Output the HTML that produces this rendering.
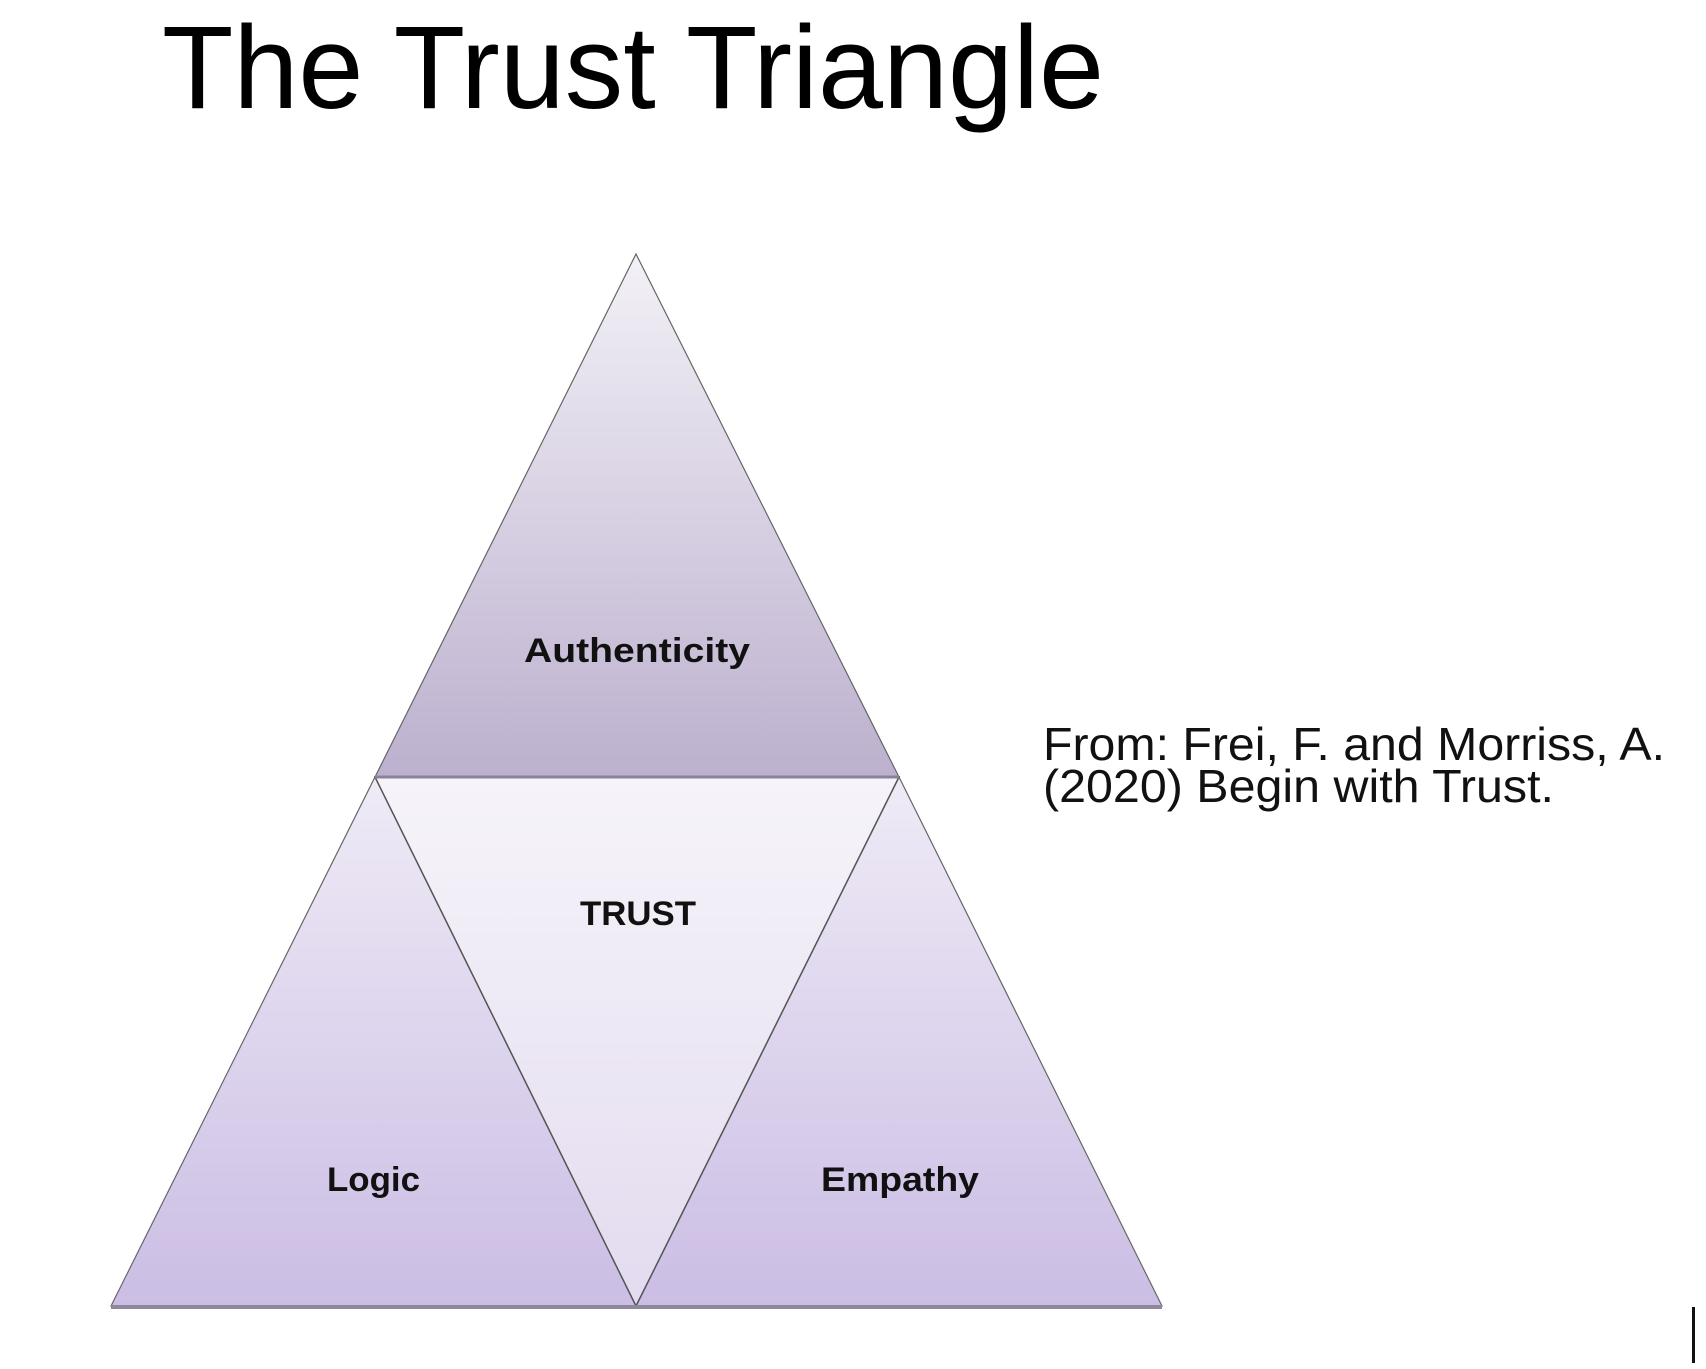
<!DOCTYPE html>
<html><head><meta charset="utf-8"><style>
html,body{margin:0;padding:0;background:#fff;width:1706px;height:1369px;overflow:hidden}
svg{display:block}
</style></head><body>
<svg width="1706" height="1369" viewBox="0 0 1706 1369" xmlns="http://www.w3.org/2000/svg">
<defs>
<linearGradient id="gTop" x1="0" y1="0" x2="0" y2="1">
<stop offset="0" stop-color="#f3f1f7"/><stop offset="1" stop-color="#bcb0ce"/></linearGradient>
<linearGradient id="gSide" x1="0" y1="0" x2="0" y2="1">
<stop offset="0" stop-color="#efebf6"/><stop offset="1" stop-color="#cbbde4"/></linearGradient>
<linearGradient id="gMid" x1="0" y1="0" x2="0" y2="1">
<stop offset="0" stop-color="#f6f4fa"/><stop offset="1" stop-color="#e3dbef"/></linearGradient>
</defs>
<text x="162" y="108" font-family="Liberation Sans, sans-serif" font-size="118" textLength="942" lengthAdjust="spacingAndGlyphs" fill="#000">The Trust Triangle</text>

<polygon points="636,254 899,777 375,777" fill="url(#gTop)" stroke="#666" stroke-width="1.2"/>
<polygon points="375,777 636,1306 111,1306" fill="url(#gSide)" stroke="#666" stroke-width="1.2"/>
<polygon points="899,777 1162,1306 636,1306" fill="url(#gSide)" stroke="#666" stroke-width="1.2"/>
<polygon points="375,777 899,777 636,1306" fill="url(#gMid)" stroke="#555" stroke-width="1.5"/>
<line x1="375" y1="777" x2="899" y2="777" stroke="#8a8296" stroke-width="3"/>
<line x1="111" y1="1307" x2="1162" y2="1307" stroke="#8f889a" stroke-width="4"/>

<g font-family="Liberation Sans, sans-serif" font-weight="bold" font-size="34" fill="#111">
<text x="524" y="662" textLength="226" lengthAdjust="spacingAndGlyphs">Authenticity</text>
<text x="580" y="925" textLength="116" lengthAdjust="spacingAndGlyphs">TRUST</text>
<text x="327" y="1191" textLength="93" lengthAdjust="spacingAndGlyphs">Logic</text>
<text x="821" y="1191" textLength="158" lengthAdjust="spacingAndGlyphs">Empathy</text>
</g>
<g font-family="Liberation Sans, sans-serif" font-size="46" fill="#111">
<text x="1043" y="760" textLength="622" lengthAdjust="spacingAndGlyphs">From: Frei, F. and Morriss, A.</text>
<text x="1043" y="802" textLength="511" lengthAdjust="spacingAndGlyphs">(2020) Begin with Trust.</text>
</g>
<rect x="1692" y="1307" width="3" height="56" fill="#111"/>
</svg>
</body></html>
